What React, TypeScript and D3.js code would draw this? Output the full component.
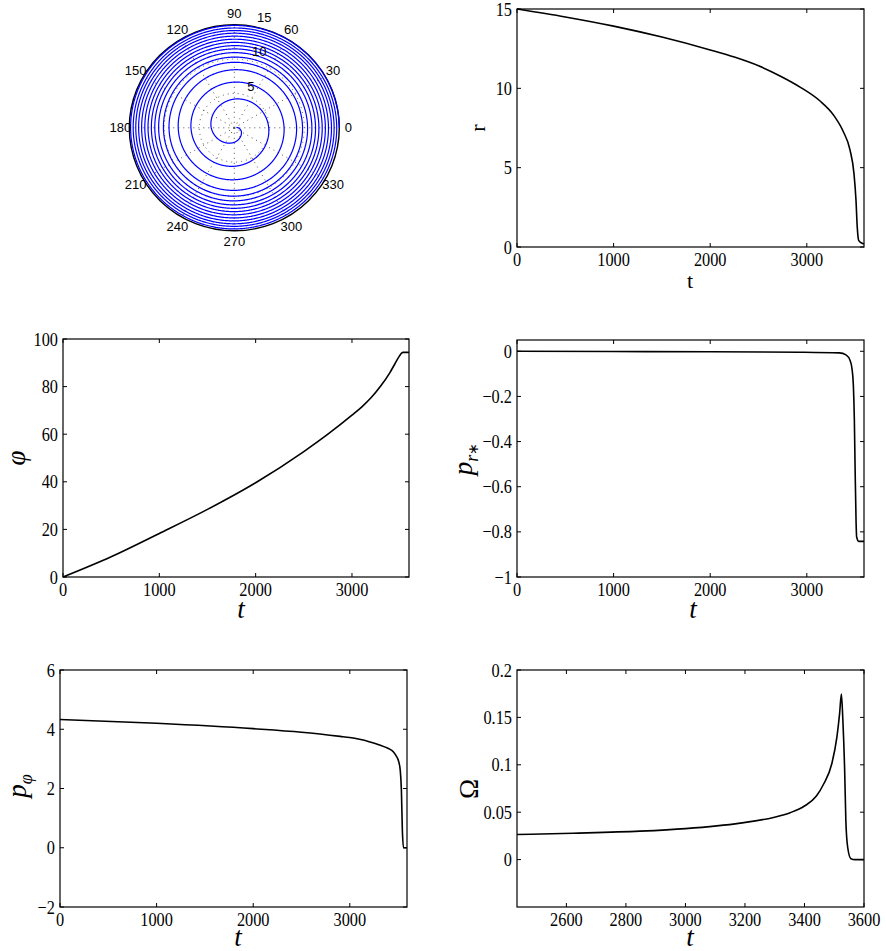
import React from 'react';
import * as d3 from 'd3';

// ---------------- data ----------------
const tR = [0, 500, 1000, 1500, 2000, 2250, 2500, 2723, 2930, 3137, 3274, 3377, 3447, 3488, 3509, 3522, 3537, 3568, 3592];
const rVals = [15, 14.5, 13.92, 13.23, 12.42, 11.97, 11.42, 10.78, 10.08, 9.2, 8.34, 7.28, 6.12, 4.64, 2.96, 1.27, 0.42, 0.25, 0.19];

const tPhi = [0, 500, 1000, 1500, 2000, 2500, 2750, 3000, 3100, 3200, 3294, 3394, 3446, 3495, 3515, 3530, 3592];
const phiVals = [0, 8.5, 18.3, 28.4, 39.6, 52.7, 60.0, 68.0, 71.4, 75.4, 80.0, 85.9, 89.6, 93.0, 94.1, 94.4, 94.4];

const tPr = [0, 1000, 2000, 2923, 3337, 3406, 3448, 3468, 3482, 3492, 3500, 3510, 3516, 3537, 3592];
const prVals = [0, -0.001, -0.002, -0.004, -0.007, -0.016, -0.041, -0.078, -0.152, -0.3, -0.52, -0.757, -0.823, -0.842, -0.842];

const tPphi = [0, 1000, 2000, 2500, 2900, 3000, 3100, 3200, 3300, 3400, 3450, 3480, 3505, 3522, 3534, 3544, 3556, 3592];
const pphiVals = [4.33, 4.2, 4.02, 3.9, 3.76, 3.72, 3.66, 3.58, 3.48, 3.35, 3.24, 3.1, 2.92, 2.62, 1.94, 0.59, 0.0, 0.0];

const tOm = [2434, 2622, 2847, 3000, 3184, 3296, 3352, 3400, 3440, 3464, 3492, 3509, 3518, 3524, 3529, 3535, 3539, 3545, 3556, 3570, 3600];
const omVals = [0.0264, 0.0278, 0.03, 0.0327, 0.0385, 0.0445, 0.0495, 0.0565, 0.067, 0.0795, 0.1014, 0.1295, 0.154, 0.1746, 0.147, 0.0943, 0.0415, 0.0133, 0.001, 0, 0];

// polar trajectory: radius r read at polar angle phi (radians, cumulative)
const polarPhi = [0, 8.5, 18.3, 28.4, 39.6, 52.7, 60.0, 68.0, 75.4, 80.0, 84.8, 86.4, 88.0, 89.5, 91.1, 92.7, 93.8, 94.3, 94.4];
const polarR = [15, 14.5, 13.92, 13.23, 12.42, 11.42, 10.78, 9.9, 8.9, 7.6, 6.2, 5.6, 4.9, 4.2, 3.3, 2.1, 1.1, 0.5, 0.3];

const tTicks = [0, 1000, 2000, 3000];
const rTicks = [0, 5, 10, 15];
const phiTicks = [0, 20, 40, 60, 80, 100];
const prTicks = [0, -0.2, -0.4, -0.6, -0.8, -1];
const pphiTicks = [-2, 0, 2, 4, 6];
const omTicks = [0, 0.05, 0.1, 0.15, 0.2];
const omTTicks = [2600, 2800, 3000, 3200, 3400, 3600];

const polarAngles = [0, 30, 60, 90, 120, 150, 180, 210, 240, 270, 300, 330];
const polarRings = [5, 10, 15];

// ---------------- styling ----------------
const SERIF = '"Liberation Serif", "Times New Roman", Tinos, serif';
const SANS = '"Liberation Sans", Arial, Helvetica, sans-serif';
const W = 886;
const H = 951;
const PHI = '\u03C6';

type Box = { x0: number; x1: number; y0: number; y1: number };

const fmt = (v: number) => (v < 0 ? '\u2212' : '') + String(Math.abs(v));

function TickText(props: { x: number; y: number; anchor: string; children: any }) {
  return (
    <text
      transform={`translate(${props.x},${props.y}) scale(0.86,1)`}
      textAnchor={props.anchor as any}
      fontFamily={SERIF}
      fontSize={19}
      fill="#000"
    >
      {props.children}
    </text>
  );
}

function LinePanel(props: {
  box: Box;
  xDomain: [number, number];
  yDomain: [number, number];
  xTicks: number[];
  yTicks: number[];
  ts: number[];
  vs: number[];
}) {
  const { box, xDomain, yDomain, xTicks, yTicks, ts, vs } = props;
  const xs = d3.scaleLinear().domain(xDomain).range([box.x0, box.x1]);
  const ys = d3.scaleLinear().domain(yDomain).range([box.y1, box.y0]);
  const pts: [number, number][] = ts.map((t, i) => [t, vs[i]]);
  const line = d3
    .line<[number, number]>()
    .x((d) => xs(d[0]))
    .y((d) => ys(d[1]))
    .curve(d3.curveMonotoneX);
  const tl = 4;
  return (
    <g>
      <path d={line(pts) || ''} fill="none" stroke="#000" strokeWidth={1.6} strokeLinejoin="round" />
      {xTicks.map((v) => (
        <g key={'x' + v}>
          <line x1={xs(v)} x2={xs(v)} y1={box.y1} y2={box.y1 - tl} stroke="#000" strokeWidth={1} />
          <line x1={xs(v)} x2={xs(v)} y1={box.y0} y2={box.y0 + tl} stroke="#000" strokeWidth={1} />
          <TickText x={xs(v)} y={box.y1 + 19} anchor="middle">
            {fmt(v)}
          </TickText>
        </g>
      ))}
      {yTicks.map((v) => (
        <g key={'y' + v}>
          <line x1={box.x0} x2={box.x0 + tl} y1={ys(v)} y2={ys(v)} stroke="#000" strokeWidth={1} />
          <line x1={box.x1} x2={box.x1 - tl} y1={ys(v)} y2={ys(v)} stroke="#000" strokeWidth={1} />
          <TickText x={box.x0 - 5} y={ys(v) + 6.5} anchor="end">
            {fmt(v)}
          </TickText>
        </g>
      ))}
      <rect x={box.x0} y={box.y0} width={box.x1 - box.x0} height={box.y1 - box.y0} fill="none" stroke="#000" strokeWidth={1.2} />
    </g>
  );
}

function PolarPanel() {
  const cx = 234.3;
  const cy = 127.8;
  const rx = 105;
  const ry = 103;
  const rsx = d3.scaleLinear().domain([0, 15]).range([0, rx]);
  const rsy = d3.scaleLinear().domain([0, 15]).range([0, ry]);
  const phiToR = d3.scaleLinear().domain(polarPhi).range(polarR).clamp(true);
  const samples = d3.range(0, polarPhi[polarPhi.length - 1] + 0.001, 0.01);
  const spiral = d3
    .line<number>()
    .x((p) => cx + rsx(phiToR(p)) * Math.cos(p))
    .y((p) => cy - rsy(phiToR(p)) * Math.sin(p));
  const ringPath = (r: number) =>
    `M${cx + rsx(r)},${cy} A${rsx(r)},${rsy(r)} 0 1 0 ${cx - rsx(r)},${cy} A${rsx(r)},${rsy(r)} 0 1 0 ${cx + rsx(r)},${cy}`;
  return (
    <g>
      {polarAngles.map((a) => {
        const rad = (a * Math.PI) / 180;
        return (
          <line
            key={'s' + a}
            x1={cx}
            y1={cy}
            x2={cx + rx * Math.cos(rad)}
            y2={cy - ry * Math.sin(rad)}
            stroke="#555"
            strokeWidth={1}
            strokeDasharray="1 4"
          />
        );
      })}
      {polarRings.slice(0, 2).map((r) => (
        <path key={'c' + r} d={ringPath(r)} fill="none" stroke="#555" strokeWidth={1} strokeDasharray="1 4" />
      ))}
      <path d={ringPath(15)} fill="none" stroke="#000" strokeWidth={1.4} />
      <path d={spiral(samples) || ''} fill="none" stroke="#0000ff" strokeWidth={1.2} />
      {polarAngles.map((a) => {
        const rad = (a * Math.PI) / 180;
        return (
          <text
            key={'a' + a}
            x={cx + 114 * Math.cos(rad)}
            y={cy - 114 * Math.sin(rad) + 4.6}
            textAnchor="middle"
            fontFamily={SANS}
            fontSize={13}
            fill="#000"
          >
            {a}
          </text>
        );
      })}
      {polarRings.map((r) => (
        <text
          key={'r' + r}
          x={cx + 8 + rsx(r) * 0.14}
          y={cy - rsy(r) - 7.5 + 4.6}
          textAnchor="start"
          fontFamily={SANS}
          fontSize={13}
          fill="#000"
        >
          {r}
        </text>
      ))}
    </g>
  );
}

export default function App() {
  const boxR: Box = { x0: 517, x1: 864, y0: 9, y1: 247 };
  const boxPhi: Box = { x0: 63, x1: 409, y0: 339, y1: 577 };
  const boxPr: Box = { x0: 517, x1: 864, y0: 340, y1: 577 };
  const boxPphi: Box = { x0: 60, x1: 407, y0: 670, y1: 907 };
  const boxOm: Box = { x0: 517, x1: 864, y0: 670, y1: 907 };
  const tDom: [number, number] = [0, 3592];
  return (
    <svg
      width={W}
      height={H}
      viewBox={`0 0 ${W} ${H}`}
      style={{ position: 'absolute', left: 0, top: 0, background: '#fff', display: 'block' }}
    >
      <rect x={0} y={0} width={W} height={H} fill="#fff" />
      <PolarPanel />

      <LinePanel box={boxR} xDomain={tDom} yDomain={[0, 15]} xTicks={tTicks} yTicks={rTicks} ts={tR} vs={rVals} />
      <text x={690} y={288} textAnchor="middle" fontFamily={SERIF} fontSize={22}>t</text>
      <text transform="translate(485,128) rotate(-90)" textAnchor="middle" fontFamily={SERIF} fontSize={22}>r</text>

      <LinePanel box={boxPhi} xDomain={tDom} yDomain={[0, 100]} xTicks={tTicks} yTicks={phiTicks} ts={tPhi} vs={phiVals} />
      <text x={241} y={618} textAnchor="middle" fontFamily={SERIF} fontStyle="italic" fontSize={27}>t</text>
      <text transform="translate(25,458) rotate(-90)" textAnchor="middle" fontFamily={SERIF} fontStyle="italic" fontSize={27}>{PHI}</text>

      <LinePanel box={boxPr} xDomain={tDom} yDomain={[-1, 0.05]} xTicks={tTicks} yTicks={prTicks} ts={tPr} vs={prVals} />
      <text x={693} y={618} textAnchor="middle" fontFamily={SERIF} fontStyle="italic" fontSize={27}>t</text>
      <text transform="translate(472,459) rotate(-90)" textAnchor="middle" fontFamily={SERIF} fontStyle="italic" fontSize={27}>
        p<tspan fontSize={18} dy={6}>r</tspan><tspan fontSize={14} dy={0} fontStyle="normal">∗</tspan>
      </text>

      <LinePanel box={boxPphi} xDomain={tDom} yDomain={[-2, 6]} xTicks={tTicks} yTicks={pphiTicks} ts={tPphi} vs={pphiVals} />
      <text x={238} y={946} textAnchor="middle" fontFamily={SERIF} fontStyle="italic" fontSize={27}>t</text>
      <text transform="translate(26,786) rotate(-90)" textAnchor="middle" fontFamily={SERIF} fontStyle="italic" fontSize={27}>
        p<tspan fontSize={18} dy={6}>{PHI}</tspan>
      </text>

      <LinePanel box={boxOm} xDomain={[2434, 3600]} yDomain={[-0.05, 0.2]} xTicks={omTTicks} yTicks={omTicks} ts={tOm} vs={omVals} />
      <text x={690} y={946} textAnchor="middle" fontFamily={SERIF} fontStyle="italic" fontSize={27}>t</text>
      <text transform="translate(478,789) rotate(-90)" textAnchor="middle" fontFamily={SERIF} fontSize={27}>Ω</text>
    </svg>
  );
}
